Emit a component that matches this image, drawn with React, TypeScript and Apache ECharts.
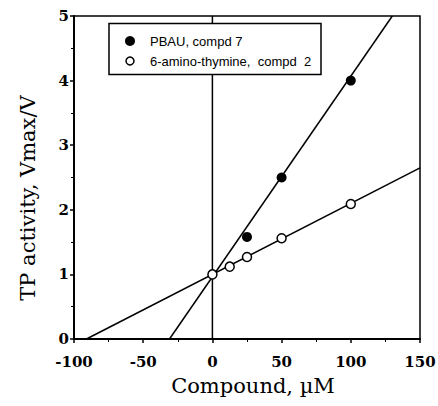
import React, { useEffect, useRef } from "react";
import * as echarts from "echarts";

const xTicks = [-100, -50, 0, 50, 100, 150];
const yTicks = [0, 1, 2, 3, 4, 5];
const pbauPoints: [number, number][] = [
  [25, 1.58],
  [50, 2.5],
  [100, 4.0],
];
const pbauLine: [number, number][] = [
  [-31, 0],
  [130, 5],
];
const aminoPoints: [number, number][] = [
  [0, 1.0],
  [12.5, 1.12],
  [25, 1.27],
  [50, 1.56],
  [100, 2.09],
];
const aminoLine: [number, number][] = [
  [-91, 0],
  [150, 2.65],
];
const zeroLine: [number, number][] = [
  [0, 0],
  [0, 5],
];
const legendLabels = ["PBAU, compd 7", "6-amino-thymine,  compd  2"];
const xTitle = "Compound, \u00b5M";
const yTitle = "TP activity, Vmax/V";

export default function App() {
  const ref = useRef<HTMLDivElement>(null);
  useEffect(() => {
    if (!ref.current) return;
    const chart = echarts.init(ref.current, undefined, { renderer: "svg" });
    const axisCommon = {
      type: "value" as const,
      axisLine: { show: true, onZero: false, lineStyle: { color: "#000", width: 2 } },
      axisTick: { show: true, inside: false, length: 4, lineStyle: { color: "#000", width: 1.5 } },
      minorTick: { show: true, splitNumber: 2, length: 3, lineStyle: { color: "#000", width: 1 } },
      splitLine: { show: false },
      axisLabel: { show: false },
    };
    chart.setOption({
      animation: false,
      backgroundColor: "#fff",
      grid: { left: 74, right: 18, top: 16, bottom: 67, show: true, borderColor: "#000", borderWidth: 1.5, backgroundColor: "transparent" },
      xAxis: { ...axisCommon, min: -100, max: 150, interval: 50 },
      yAxis: { ...axisCommon, min: 0, max: 5, interval: 1 },
      series: [
        { type: "line", data: zeroLine, symbol: "none", lineStyle: { color: "#000", width: 1.5 }, z: 1 },
        { type: "line", data: pbauLine, symbol: "none", lineStyle: { color: "#000", width: 1.5 }, z: 2 },
        { type: "line", data: aminoLine, symbol: "none", lineStyle: { color: "#000", width: 1.5 }, z: 2 },
        {
          type: "scatter",
          data: pbauPoints,
          symbol: "circle",
          symbolSize: 10,
          itemStyle: { color: "#000", opacity: 1 },
          z: 3,
        },
        {
          type: "scatter",
          data: aminoPoints,
          symbol: "circle",
          symbolSize: 9,
          itemStyle: { color: "#fff", borderColor: "#000", borderWidth: 1.5, opacity: 1 },
          z: 3,
        },
      ],
    });

    const tickFont = { fontFamily: "DejaVu Serif", fontWeight: "bold", fontSize: 15, fill: "#000" };
    const xLabelEls = xTicks.map((v) => {
      const p = chart.convertToPixel({ gridIndex: 0 }, [v, 0]) as number[];
      return {
        type: "text",
        x: p[0],
        y: p[1] + 15,
        style: { ...tickFont, text: String(v), align: "center", verticalAlign: "top" },
      };
    });
    const yLabelEls = yTicks.map((v) => {
      const p = chart.convertToPixel({ gridIndex: 0 }, [-100, v]) as number[];
      return {
        type: "text",
        x: p[0] - 5,
        y: p[1],
        style: { ...tickFont, text: String(v), align: "right", verticalAlign: "middle" },
      };
    });

    chart.setOption({
      graphic: [
        ...xLabelEls,
        ...yLabelEls,
        {
          type: "text",
          x: 253,
          y: 386,
          style: { text: xTitle, font: "21px 'DejaVu Serif'", fill: "#000", align: "center", verticalAlign: "middle" },
        },
        {
          type: "text",
          x: 28,
          y: 198,
          rotation: Math.PI / 2,
          style: { text: yTitle, font: "21px 'DejaVu Serif'", fill: "#000", align: "center", verticalAlign: "middle" },
        },
        {
          type: "group",
          z: 100,
          children: [
            {
              type: "rect",
              shape: { x: 109, y: 23.5, width: 212, height: 51 },
              style: { fill: "#fff", stroke: "#000", lineWidth: 1.5 },
              z: 100,
            },
            { type: "circle", shape: { cx: 130, cy: 41, r: 5 }, style: { fill: "#000" }, z: 101 },
            {
              type: "circle",
              shape: { cx: 130, cy: 61, r: 4 },
              style: { fill: "#fff", stroke: "#000", lineWidth: 1.5 },
              z: 101,
            },
            {
              type: "text",
              x: 150,
              y: 41,
              style: { text: legendLabels[0], font: "13px 'Liberation Sans'", fill: "#000", verticalAlign: "middle" },
              z: 101,
            },
            {
              type: "text",
              x: 150,
              y: 61,
              style: { text: legendLabels[1], font: "13px 'Liberation Sans'", fill: "#000", verticalAlign: "middle" },
              z: 101,
            },
          ],
        },
      ],
    });
    return () => chart.dispose();
  }, []);
  return <div ref={ref} style={{ width: 438, height: 406, position: "absolute", left: 0, top: 0 }} />;
}
